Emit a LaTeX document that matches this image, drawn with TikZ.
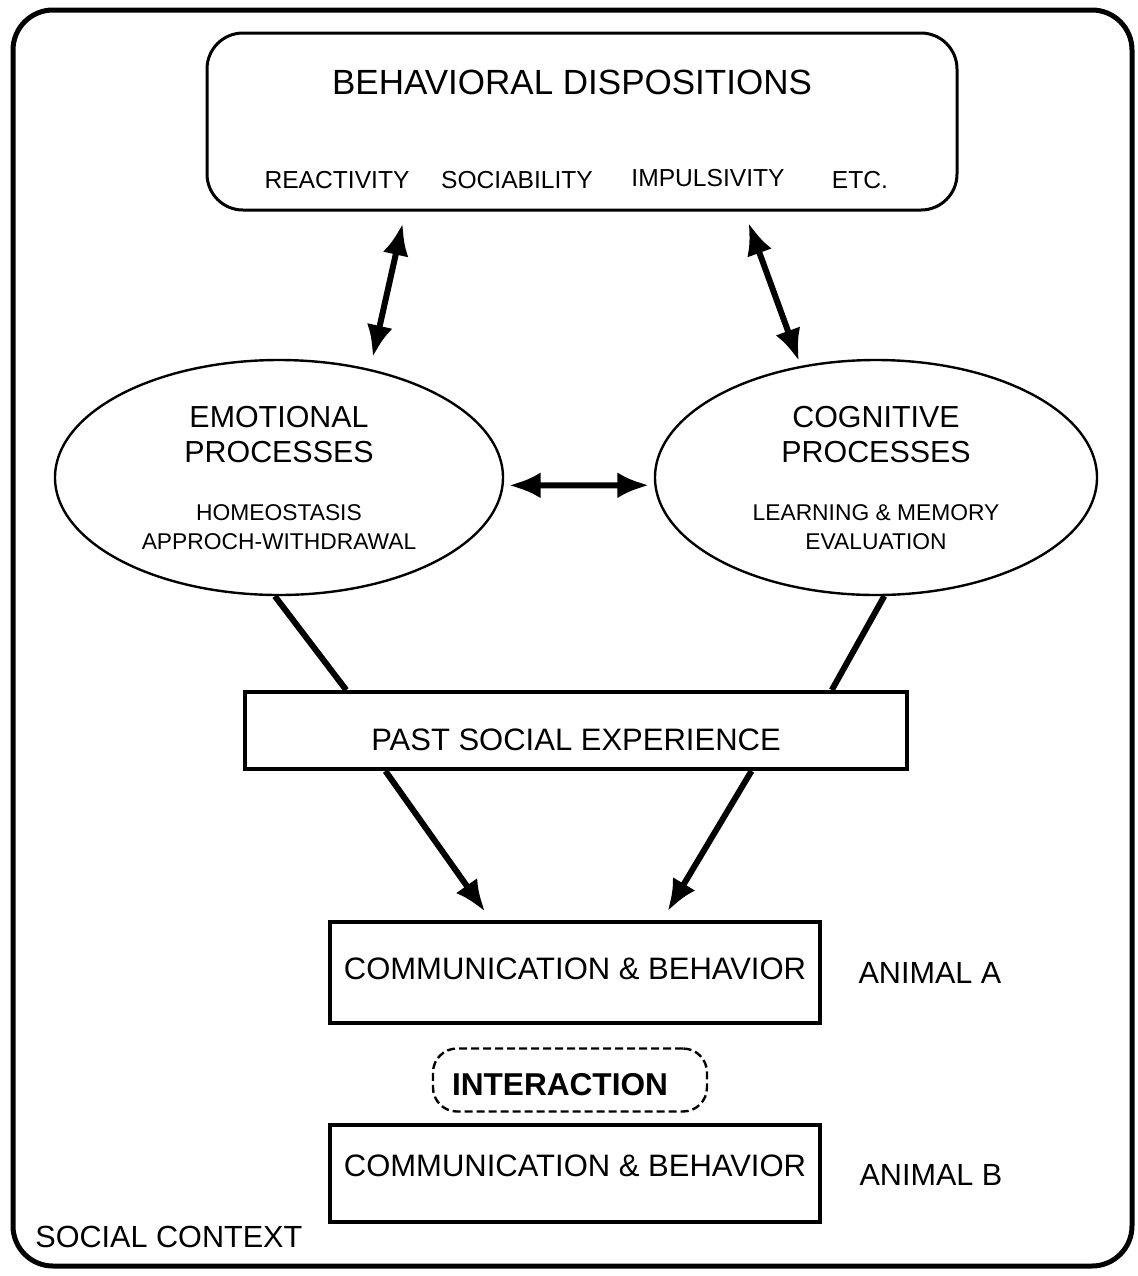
\documentclass[tikz,border=0pt]{standalone}
\usepackage{fontspec}
\setmainfont{Liberation Sans}
\usetikzlibrary{shapes.geometric,arrows.meta}
\tikzset{
    ctxframe/.style = { draw, line width=2.5pt, rounded corners=20pt },
    dispbox/.style  = { rectangle, draw, line width=1.5pt, rounded corners=18pt,
	minimum width=375pt, minimum height=88.5pt },
	item/.style     = { inner sep=0pt, font=\fontsize{12.3}{14}\selectfont },
	proc/.style     = { ellipse, draw, line width=1.2pt, align=center, inner sep=0pt,
	font=\fontsize{15.2}{17.5}\selectfont },
	block/.style    = { rectangle, draw, line width=2pt, inner sep=0pt,
	font=\fontsize{15.5}{18}\selectfont },
	interbox/.style = { rectangle, draw, line width=1.2pt, dash pattern=on 4pt off 2pt,
	rounded corners=12pt, minimum width=137pt, minimum height=31.5pt,
	text height=15.3pt, text depth=0pt, inner sep=0pt,
	font=\bfseries\fontsize{15.8}{18}\selectfont },
	tag/.style      = { inner sep=0pt, font=\fontsize{15.3}{18}\selectfont },
	line/.style     = { draw, line width=3pt },
	arrowline/.style = { draw, line width=3pt, -{Latex[length=16pt,width=13pt]} },
	dblline/.style  = { draw, line width=3pt,
	{Latex[length=16pt,width=13pt]}-{Latex[length=16pt,width=13pt]} },
}

\begin{document}
\begin{tikzpicture}[x=0.5pt,y=-0.5pt]
	\useasboundingbox (0,0) rectangle (1138,1276);
	\draw[ctxframe] (13,10) rectangle (1132,1266);
	% dispositions
	\node[dispbox] (disp) at (582,121.5) {};
	\node[inner sep=0pt, font=\fontsize{17.5}{20}\selectfont] (dtitle) at (572,82) {BEHAVIORAL DISPOSITIONS};
	\node[item] (react) at (337,180) {REACTIVITY};
	\node[item] (socia) at (517,180) {SOCIABILITY};
	\node[item] (impul) at (708,178) {IMPULSIVITY};
	\node[item] (etc) at (860,180) {ETC.};
	% processes
	\node[proc, minimum width=224pt, minimum height=117.5pt] (emo) at (279,477.5)
	{EMOTIONAL\\PROCESSES\\[11.5pt]{\fontsize{11.4}{13}\selectfont HOMEOSTASIS}\\[-3pt]{\fontsize{11.4}{13}\selectfont APPROCH-WITHDRAWAL}};
	\node[proc, minimum width=221pt, minimum height=117.5pt] (cog) at (876,477.5)
	{COGNITIVE\\PROCESSES\\[11.5pt]{\fontsize{11.4}{13}\selectfont LEARNING \& MEMORY}\\[-3pt]{\fontsize{11.4}{13}\selectfont EVALUATION}};
	% experience and behaviour
	\node[block, minimum width=331pt, minimum height=38.5pt, text height=20pt, text depth=0pt] (past) at (576,730.5) {PAST SOCIAL EXPERIENCE};
	\node[block, minimum width=245pt, minimum height=50.5pt, text height=11.1pt, text depth=4.5pt] (commA) at (575,972.5) {COMMUNICATION \& BEHAVIOR};
	\node[interbox] (inter) at (570,1080) {INTERACTION\hspace*{10pt}};
	\node[block, minimum width=245pt, minimum height=48.5pt, text height=11.1pt, text depth=8.5pt] (commB) at (575,1173.5) {COMMUNICATION \& BEHAVIOR};
	\node[tag] (animA) at (930,973) {ANIMAL A};
	\node[tag] (animB) at (931,1175) {ANIMAL B};
	\node[tag, anchor=west] (ctx) at (35,1237) {SOCIAL CONTEXT};
	% connectors
	\draw[dblline, shorten <=6pt, shorten >=6pt] (disp.207.2) -- (emo.50);
	\draw[dblline, shorten <=6pt, shorten >=2.5pt] (disp.331) -- (cog.124);
	\draw[dblline, shorten <=2.5pt, shorten >=2.5pt] (emo.-2) -- (cog.182);
	\draw[line] (emo.268) -- (past.170.3);
	\draw[line] (cog.274) -- (past.9.4);
	\draw[arrowline, shorten >=5pt] (past.192.3) -- (commA.148.3);
	\draw[arrowline, shorten >=5pt] (past.347.7) -- (commA.31.7);
\end{tikzpicture}
\end{document}
